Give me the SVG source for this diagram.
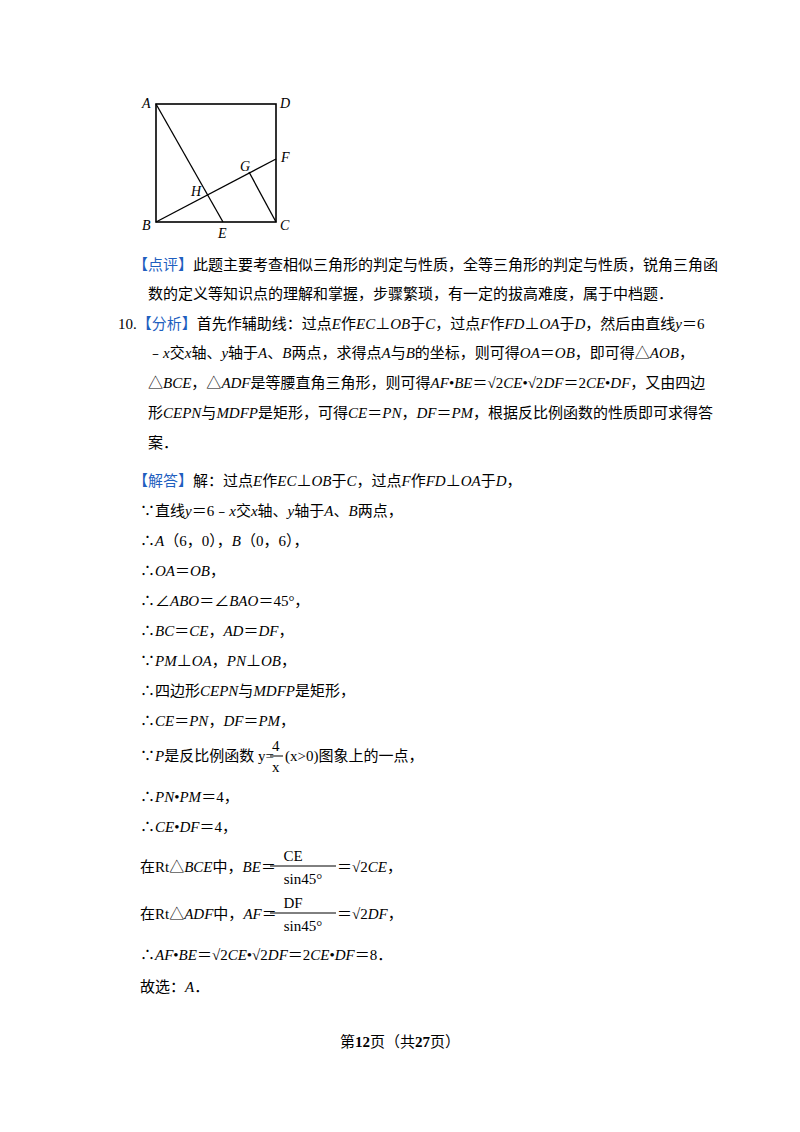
<svg xmlns="http://www.w3.org/2000/svg" width="800" height="1132" viewBox="0 0 800 1132">
<style>
text{font-family:"Liberation Serif","Noto Sans CJK SC",serif;font-size:15px;fill:#000}
.i{font-style:italic}
.b{fill:#1f5fbf}
.s{font-family:"Liberation Sans","Noto Sans CJK SC",sans-serif}
.fig line{stroke:#000;stroke-width:1.3}
.fl{font-style:italic;font-size:14px}
</style>
<rect width="800" height="1132" fill="#fff"/>
<g class="fig" id="figure">
<rect x="156" y="104" width="120" height="118" fill="none" stroke="#000" stroke-width="1.6"/>
<line x1="156" y1="104" x2="223" y2="222"/>
<line x1="156" y1="222" x2="276" y2="159"/>
<line x1="249" y1="172" x2="276" y2="222"/>
<text class="fl" x="142" y="108">A</text>
<text class="fl" x="280" y="108">D</text>
<text class="fl" x="142" y="230">B</text>
<text class="fl" x="280" y="230">C</text>
<text class="fl" x="218" y="238">E</text>
<text class="fl" x="281" y="162">F</text>
<text class="fl" x="240" y="171">G</text>
<text class="fl" x="191" y="196">H</text>
</g>
<g id="text">
<text x="133" y="270"><tspan class="b">【点评】</tspan>此题主要考查相似三角形的判定与性质，全等三角形的判定与性质，锐角三角函</text>
<text x="148" y="299">数的定义等知识点的理解和掌握，步骤繁琐，有一定的拔高难度，属于中档题．</text>
<text x="118" y="329">10.<tspan class="b">【分析】</tspan>首先作辅助线：过点<tspan class="i">E</tspan>作<tspan class="i">EC</tspan>⊥<tspan class="i">OB</tspan>于<tspan class="i">C</tspan>，过点<tspan class="i">F</tspan>作<tspan class="i">FD</tspan>⊥<tspan class="i">OA</tspan>于<tspan class="i">D</tspan>，然后由直线<tspan class="i">y</tspan>＝6</text>
<text x="148" y="358">﹣<tspan class="i">x</tspan>交<tspan class="i">x</tspan>轴、<tspan class="i">y</tspan>轴于<tspan class="i">A</tspan>、<tspan class="i">B</tspan>两点，求得点<tspan class="i">A</tspan>与<tspan class="i">B</tspan>的坐标，则可得<tspan class="i">OA</tspan>＝<tspan class="i">OB</tspan>，即可得△<tspan class="i">AOB</tspan>，</text>
<text x="148" y="388">△<tspan class="i">BCE</tspan>，△<tspan class="i">ADF</tspan>是等腰直角三角形，则可得<tspan class="i">AF</tspan>•<tspan class="i">BE</tspan>＝√2<tspan class="i">CE</tspan>•√2<tspan class="i">DF</tspan>＝2<tspan class="i">CE</tspan>•<tspan class="i">DF</tspan>，又由四边</text>
<text x="148" y="418">形<tspan class="i">CEPN</tspan>与<tspan class="i">MDFP</tspan>是矩形，可得<tspan class="i">CE</tspan>＝<tspan class="i">PN</tspan>，<tspan class="i">DF</tspan>＝<tspan class="i">PM</tspan>，根据反比例函数的性质即可求得答</text>
<text x="148" y="448">案．</text>
<text x="133" y="486"><tspan class="b">【解答】</tspan>解：过点<tspan class="i">E</tspan>作<tspan class="i">EC</tspan>⊥<tspan class="i">OB</tspan>于<tspan class="i">C</tspan>，过点<tspan class="i">F</tspan>作<tspan class="i">FD</tspan>⊥<tspan class="i">OA</tspan>于<tspan class="i">D</tspan>，</text>
<text x="140" y="516">∵直线<tspan class="i">y</tspan>＝6﹣<tspan class="i">x</tspan>交<tspan class="i">x</tspan>轴、<tspan class="i">y</tspan>轴于<tspan class="i">A</tspan>、<tspan class="i">B</tspan>两点，</text>
<text x="140" y="546">∴<tspan class="i">A</tspan>（6，0），<tspan class="i">B</tspan>（0，6），</text>
<text x="140" y="576">∴<tspan class="i">OA</tspan>＝<tspan class="i">OB</tspan>，</text>
<text x="140" y="606">∴∠<tspan class="i">ABO</tspan>＝∠<tspan class="i">BAO</tspan>＝45°，</text>
<text x="140" y="636">∴<tspan class="i">BC</tspan>＝<tspan class="i">CE</tspan>，<tspan class="i">AD</tspan>＝<tspan class="i">DF</tspan>，</text>
<text x="140" y="666">∵<tspan class="i">PM</tspan>⊥<tspan class="i">OA</tspan>，<tspan class="i">PN</tspan>⊥<tspan class="i">OB</tspan>，</text>
<text x="140" y="696">∴四边形<tspan class="i">CEPN</tspan>与<tspan class="i">MDFP</tspan>是矩形，</text>
<text x="140" y="726">∴<tspan class="i">CE</tspan>＝<tspan class="i">PN</tspan>，<tspan class="i">DF</tspan>＝<tspan class="i">PM</tspan>，</text>
<text x="140" y="761">∵<tspan class="i">P</tspan>是反比例函数 y=</text>
<text x="272" y="751" font-size="14">4</text>
<line x1="270" y1="756" x2="283" y2="756" stroke="#000" stroke-width="1"/>
<text x="272" y="772" font-size="14">x</text>
<text x="285" y="761">(x&gt;0)图象上的一点，</text>
<text x="140" y="802">∴<tspan class="i">PN</tspan>•<tspan class="i">PM</tspan>＝4，</text>
<text x="140" y="832">∴<tspan class="i">CE</tspan>•<tspan class="i">DF</tspan>＝4，</text>
<text x="140" y="872">在Rt△<tspan class="i">BCE</tspan>中，<tspan class="i">BE</tspan>＝</text>
<text x="293" y="861" font-size="14" text-anchor="middle">CE</text>
<line x1="270" y1="866" x2="336" y2="866" stroke="#000" stroke-width="1"/>
<text x="303" y="884" font-size="14" text-anchor="middle">sin45°</text>
<text x="337" y="872">＝√2<tspan class="i">CE</tspan>，</text>
<text x="140" y="919">在Rt△<tspan class="i">ADF</tspan>中，<tspan class="i">AF</tspan>＝</text>
<text x="293" y="908" font-size="14" text-anchor="middle">DF</text>
<line x1="270" y1="913" x2="336" y2="913" stroke="#000" stroke-width="1"/>
<text x="303" y="931" font-size="14" text-anchor="middle">sin45°</text>
<text x="337" y="919">＝√2<tspan class="i">DF</tspan>，</text>
<text x="140" y="960">∴<tspan class="i">AF</tspan>•<tspan class="i">BE</tspan>＝√2<tspan class="i">CE</tspan>•√2<tspan class="i">DF</tspan>＝2<tspan class="i">CE</tspan>•<tspan class="i">DF</tspan>＝8．</text>
<text x="140" y="992">故选：<tspan class="i">A</tspan>．</text>
<text x="400" y="1047" text-anchor="middle" font-size="13">第<tspan font-weight="bold" font-size="15">12</tspan>页（共<tspan font-weight="bold" font-size="15">27</tspan>页）</text>
</g>
</svg>
